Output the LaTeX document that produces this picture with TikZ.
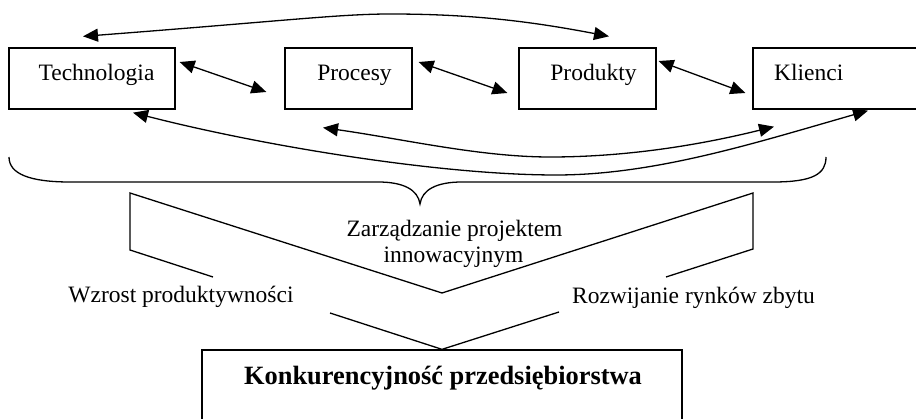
\documentclass[tikz,border=0pt]{standalone}
\usepackage{fontspec}
\setmainfont{Liberation Serif}
\usetikzlibrary{arrows.meta,calc}
\begin{document}
\begin{tikzpicture}[x=1pt,y=-1pt,
  box/.style={draw, line width=1.3pt, rectangle, inner sep=0pt},
  lbl/.style={anchor=base, inner sep=0pt, font=\fontsize{23.5}{28}\selectfont},
  biglbl/.style={anchor=base, inner sep=0pt, font=\fontsize{26.4}{31}\selectfont\bfseries},
  con/.style={line width=1.3pt, {Triangle[length=15pt,width=13pt]}-{Triangle[length=15pt,width=13pt]}},
  ln/.style={line width=1.3pt, line join=miter}]
\clip (0,0) rectangle (916,419);
\fill[white] (0,0) rectangle (916,419);
% boxes
\node[box, minimum width=166pt, minimum height=61pt] (tech) at (92,78.5) {};
\node[box, minimum width=127pt, minimum height=61pt] (proc) at (348.5,78.5) {};
\node[box, minimum width=137pt, minimum height=61pt] (prod) at (587.5,78.5) {};
\node[box, minimum width=169pt, minimum height=61pt] (klie) at (837.5,78.5) {};
\node[box, minimum width=480pt, minimum height=90pt] (konk) at (442,395) {};
% texts
\node[lbl] (ttech) at (96.5,81) {Technologia};
\node[lbl] (tproc) at (354.5,81) {Procesy};
\node[lbl] (tprod) at (593.5,81) {Produkty};
\node[lbl, anchor=base west] (tklie) at (774,81) {Klienci};
\node[lbl] (zarz1) at (454.5,237) {Zarządzanie projektem};
\node[lbl] (zarz2) at (453.5,263) {innowacyjnym};
\node[lbl] (wzrost) at (181,303) {Wzrost produktywności};
\node[lbl] (rozw) at (693.5,304) {Rozwijanie rynków zbytu};
\node[biglbl] (tkonk) at (443,385) {Konkurencyjność przedsiębiorstwa};
% straight connectors
\draw[con] ($(tech.east)+(4,-16.5)$) -- ($(proc.west)+(-18,13.5)$);
\draw[con] ($(proc.east)+(6,-16.5)$) -- ($(prod.west)+(-11,14.5)$);
\draw[con] ($(prod.east)+(2,-17.5)$) -- ($(klie.west)+(-7,14.5)$);
% curved connectors
\coordinate (topA) at ($(tech.north)+(-9,-11)$);
\coordinate (topB) at ($(prod.north)+(21.5,-11)$);
\draw[con] (topA) .. controls (283,21) and (340,14) .. (390,14)
  .. controls (470,14) and (529,21) .. (topB);
\coordinate (lowA) at ($(tech.south)+(41,3)$);
\coordinate (lowB) at ($(klie.south)+(30.5,1)$);
\draw[con] (lowA) .. controls (263,146) and (440,175) .. (556,175)
  .. controls (656,175) and (758,142) .. (lowB);
\coordinate (midA) at ($(proc.south)+(-25.5,18)$);
\coordinate (midB) at ($(klie.south)+(-63.5,17)$);
\draw[con] (midA) .. controls (403,139) and (480,157) .. (550,157)
  .. controls (630,157) and (704,144) .. (midB);
% brace
\draw[ln] (9,157) .. controls (9,174) and (30,182) .. (70,182) -- (378,182)
  .. controls (404,182) and (418,190) .. (420,204)
  .. controls (422,190) and (436,182) .. (462,182) -- (773,182)
  .. controls (813,182) and (826,174) .. (826,157);
% folded ribbon
\draw[ln] (213,277) -- (130,250) -- (130,193) -- (442,293) -- (753,193) -- (753,249) -- (666,277);
\draw[ln] (330,313) -- (konk.north) -- (559,312);
\end{tikzpicture}
\end{document}
